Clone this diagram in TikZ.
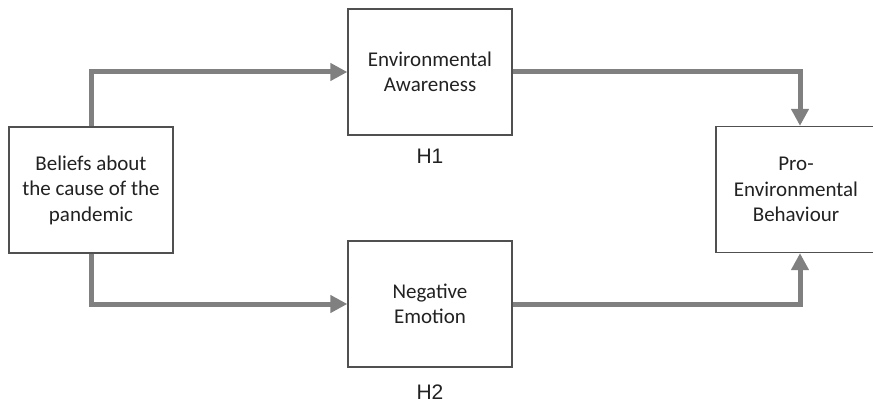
\documentclass[tikz,border=0pt]{standalone}
\usepackage{fontspec}
\setmainfont{Carlito}
\newfontfamily\arialfont{Liberation Sans}
\usetikzlibrary{arrows.meta}
\definecolor{linegray}{HTML}{808080}
\definecolor{boxedge}{HTML}{505050}
\definecolor{txt}{HTML}{222222}
\begin{document}
\begin{tikzpicture}[x=1pt,y=-1pt,
  box/.style={draw=boxedge,line width=1.3pt,fill=white,minimum width=164pt,minimum height=126pt,inner sep=0pt,align=center,text=txt,font=\fontsize{21}{25.5}\selectfont},
  hlabel/.style={text=txt,font=\arialfont\fontsize{21}{25}\selectfont,inner sep=0pt},
  conn/.style={draw=linegray,line width=5pt,-{Triangle[length=17pt,width=17pt]}}]
\useasboundingbox (0,0) rectangle (873,406);
\node[box] (L) at (91,190) {Beliefs about\\the cause of the\\pandemic};
\node[box] (T) at (430,72) {Environmental\\Awareness};
\node[box] (B) at (430,304) {Negative\\Emotion};
\node[box,minimum width=160pt] (R) at (796,189.5) {Pro-\\Environmental\\Behaviour};
\node[hlabel] (H1) at (430,156) {H1};
\node[hlabel] (H2) at (430,392) {H2};
\draw[conn] (L.north) |- (T.west);
\draw[conn] (L.south) |- (B.west);
\draw[conn] (T.east) -| ([xshift=4pt]R.north);
\draw[conn] (B.east) -| ([xshift=4pt]R.south);
\end{tikzpicture}
\end{document}
